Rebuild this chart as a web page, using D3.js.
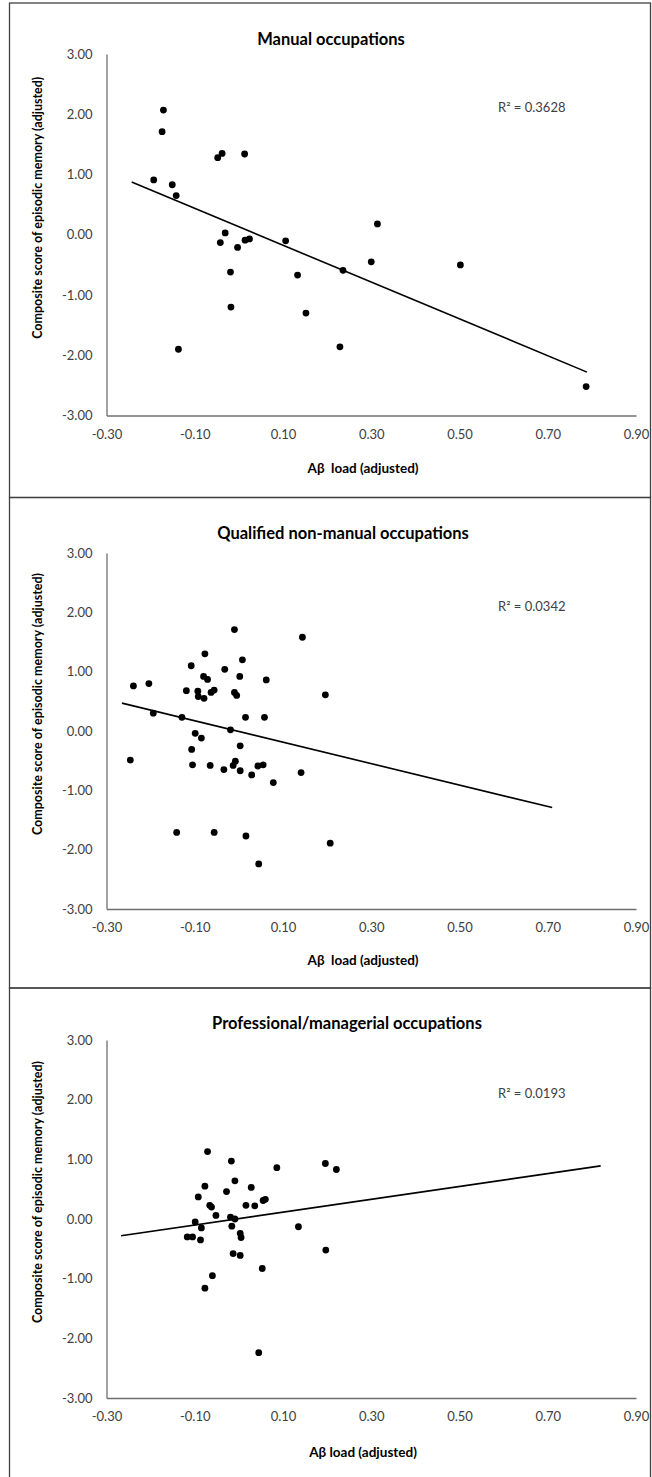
<!DOCTYPE html>
<html>
<head>
<meta charset="utf-8">
<script src="https://cdn.jsdelivr.net/npm/d3@7"></script>
<style>
  body { margin: 0; background: #fff; }
  text { font-family: Lato, "Open Sans", sans-serif; }
</style>
</head>
<body>
<div id="chart"></div>
<script>
// Values
var xTicks = [-0.3, -0.1, 0.1, 0.3, 0.5, 0.7, 0.9];
var yTicks = [-3, -2, -1, 0, 1, 2, 3];

var titles = ["Manual occupations", "Qualified non-manual occupations", "Professional/managerial occupations"];
var xLabels = ["Aβ\u00a0 load (adjusted)", "Aβ\u00a0 load (adjusted)", "Aβ load (adjusted)"];
var rSquared = ["0.3628", "0.0342", "0.0193"];

var manualX = [-0.171, -0.174, -0.048, -0.038, 0.013, -0.193, -0.151, -0.142, -0.031, -0.042, -0.003, 0.014, 0.024,
  0.106, -0.019, 0.133, 0.236, -0.018, 0.152, -0.137, 0.229, 0.300, 0.502, 0.787, 0.314];
var manualY = [2.07, 1.71, 1.28, 1.35, 1.34, 0.91, 0.83, 0.65, 0.03, -0.13, -0.21, -0.09, -0.07,
  -0.10, -0.62, -0.67, -0.59, -1.20, -1.30, -1.90, -1.86, -0.45, -0.50, -2.52, 0.18];

var qualifiedX = [-0.077, -0.108, 0.008, -0.032, -0.080, -0.071, 0.002, 0.062, -0.239, -0.204, -0.119, -0.093, -0.092,
  -0.079, -0.063, -0.056, -0.010, -0.005, 0.196, -0.194, -0.129, 0.015, 0.058, -0.019, -0.099, -0.085, -0.107, 0.003,
  -0.246, -0.105, -0.065, -0.034, -0.013, -0.008, 0.003, 0.029, 0.043, 0.055, 0.078, 0.141, -0.141, -0.056, 0.016,
  0.207, 0.045, 0.144, -0.010];
var qualifiedY = [1.30, 1.10, 1.20, 1.04, 0.92, 0.87, 0.92, 0.86, 0.76, 0.80, 0.68, 0.67, 0.58,
  0.55, 0.65, 0.69, 0.65, 0.60, 0.61, 0.30, 0.23, 0.23, 0.23, 0.02, -0.04, -0.12, -0.31, -0.25,
  -0.49, -0.57, -0.58, -0.65, -0.58, -0.51, -0.67, -0.74, -0.59, -0.57, -0.87, -0.70, -1.71, -1.71, -1.77,
  -1.89, -2.24, 1.58, 1.71];

var professionalX = [-0.071, -0.017, 0.086, 0.196, -0.009, -0.077, 0.028, -0.028, -0.092, 0.055, 0.060, 0.016, 0.036,
  -0.066, -0.062, -0.052, -0.019, -0.009, -0.099, -0.085, -0.016, 0.003, 0.005, -0.117, -0.105, -0.087, 0.135,
  0.197, -0.013, 0.003, 0.053, -0.060, -0.077, 0.045, 0.221];
var professionalY = [1.13, 0.97, 0.86, 0.93, 0.64, 0.55, 0.53, 0.46, 0.37, 0.31, 0.33, 0.23, 0.22,
  0.23, 0.20, 0.06, 0.03, 0.00, -0.05, -0.15, -0.12, -0.24, -0.31, -0.30, -0.30, -0.35, -0.13,
  -0.52, -0.58, -0.61, -0.83, -0.95, -1.16, -2.24, 0.83];

// trend line end points (x, y)
var manualTrendX = [-0.243, 0.789], manualTrendY = [0.874, -2.28];
var qualifiedTrendX = [-0.265, 0.710], qualifiedTrendY = [0.47, -1.29];
var professionalTrendX = [-0.267, 0.820], professionalTrendY = [-0.28, 0.89];

var pointsX = [manualX, qualifiedX, professionalX];
var pointsY = [manualY, qualifiedY, professionalY];
var trendX = [manualTrendX, qualifiedTrendX, professionalTrendX];
var trendY = [manualTrendY, qualifiedTrendY, professionalTrendY];

var svgWidth = 652;
var svgHeight = 1477;

// layout of each panel
var panels = [
  { boxTop: 3, boxBottom: 497.5, top: 54, bottom: 415.5, titleX: 331, titleY: 45, labelY: 473 },
  { boxTop: 497.5, boxBottom: 988, top: 553, bottom: 909, titleX: 343, titleY: 539, labelY: 965 },
  { boxTop: 988, boxBottom: 1490, top: 1040, bottom: 1398, titleX: 347, titleY: 1029, labelY: 1457 }
];
var left = 106.5, right = 636;

var svg = d3.select("#chart")
  .append("svg")
  .attr("width", svgWidth)
  .attr("height", svgHeight);

var xScale = d3.scaleLinear().domain([-0.3, 0.9]).range([left, right]);

panels.forEach(function(p, i) {
  var g = svg.append("g");

  // panel border
  g.append("rect")
    .attr("x", 9.5)
    .attr("y", p.boxTop)
    .attr("width", 641)
    .attr("height", p.boxBottom - p.boxTop)
    .attr("fill", "none")
    .attr("stroke", "#404040")
    .attr("stroke-width", 1.3);

  var yScale = d3.scaleLinear().domain([-3, 3]).range([p.bottom, p.top]);

  // axes
  var bottomAxis = d3.axisBottom(xScale)
    .tickValues(xTicks)
    .tickSize(0)
    .tickPadding(14)
    .tickFormat(d3.format(".2f"));
  var leftAxis = d3.axisLeft(yScale)
    .tickValues(yTicks)
    .tickSize(0)
    .tickPadding(14)
    .tickFormat(d3.format(".2f"));

  var xAxis = g.append("g")
    .attr("transform", `translate(0, ${p.bottom})`)
    .call(bottomAxis);
  var yAxis = g.append("g")
    .attr("transform", `translate(${left}, 0)`)
    .call(leftAxis);

  [xAxis, yAxis].forEach(function(a) {
    a.select(".domain").attr("stroke", "#6f6f6f").attr("stroke-width", 1.3);
    a.selectAll("text")
      .attr("fill", "#404040")
      .style("font-size", "13px")
      .text(function(d) { return d3.format(".2f")(d).replace("−", "-"); });
  });

  // trend line
  var tx = trendX[i], ty = trendY[i];
  g.append("line")
    .attr("x1", xScale(tx[0]))
    .attr("y1", yScale(ty[0]))
    .attr("x2", xScale(tx[1]))
    .attr("y2", yScale(ty[1]))
    .attr("stroke", "#000")
    .attr("stroke-width", 1.6);

  // points
  var data = pointsX[i].map(function(x, k) { return { x: x, y: pointsY[i][k] }; });
  g.selectAll("circle")
    .data(data)
    .enter().append("circle")
    .attr("cx", d => xScale(d.x))
    .attr("cy", d => yScale(d.y))
    .attr("r", 3.4)
    .attr("fill", "#000");

  // title
  g.append("text")
    .attr("x", p.titleX)
    .attr("y", p.titleY)
    .attr("text-anchor", "middle")
    .style("font-size", "16.5px")
    .style("font-weight", "bold")
    .attr("fill", "#000")
    .text(titles[i]);

  // R squared
  var r2 = g.append("text")
    .attr("x", 498)
    .attr("y", p.top + 58)
    .style("font-size", "13px")
    .attr("fill", "#404040");
  r2.append("tspan").text("R");
  r2.append("tspan").text("²");
  r2.append("tspan").text(" = " + rSquared[i]);

  // axis titles
  g.append("text")
    .attr("x", 363)
    .attr("y", p.labelY)
    .attr("text-anchor", "middle")
    .style("font-size", "13.5px")
    .style("font-weight", "bold")
    .attr("fill", "#000")
    .text(xLabels[i]);

  g.append("text")
    .attr("transform", `translate(42, ${(p.top + p.bottom) / 2 - 27}) rotate(-90)`)
    .attr("text-anchor", "middle")
    .style("font-size", "12.5px")
    .style("font-weight", "bold")
    .attr("fill", "#000")
    .text("Composite score of episodic memory (adjusted)");
});
</script>
</body>
</html>
